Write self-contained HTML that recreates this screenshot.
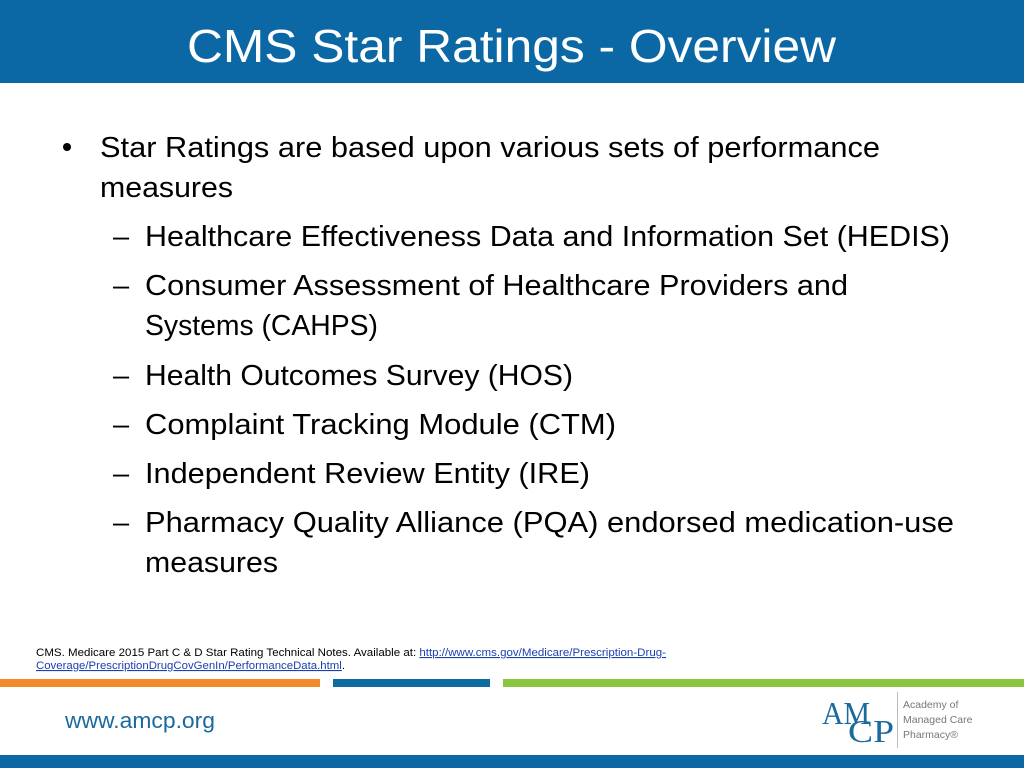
<!DOCTYPE html>
<html><head><meta charset="utf-8"><style>
html,body{margin:0;padding:0;background:#fff;}
svg{display:block;}
text{font-family:"Liberation Sans",sans-serif;}
</style></head><body>
<svg width="1024" height="768" viewBox="0 0 1024 768">
<rect x="0" y="0" width="1024" height="83" fill="#0b68a4"/>
<text x="187" y="62" font-size="46" fill="#fff" textLength="649" lengthAdjust="spacingAndGlyphs">CMS Star Ratings - Overview</text>
<g fill="#000" font-size="29">
<circle cx="67" cy="147" r="4"/>
<text x="100" y="157" textLength="780" lengthAdjust="spacingAndGlyphs">Star Ratings are based upon various sets of performance</text>
<text x="100" y="197" textLength="133" lengthAdjust="spacingAndGlyphs">measures</text>
<text x="113" y="246">–</text>
<text x="145" y="246" textLength="805" lengthAdjust="spacingAndGlyphs">Healthcare Effectiveness Data and Information Set (HEDIS)</text>
<text x="113" y="295">–</text>
<text x="145" y="295" textLength="703" lengthAdjust="spacingAndGlyphs">Consumer Assessment of Healthcare Providers and</text>
<text x="145" y="335" textLength="233" lengthAdjust="spacingAndGlyphs">Systems (CAHPS)</text>
<text x="113" y="385">–</text>
<text x="145" y="385" textLength="428" lengthAdjust="spacingAndGlyphs">Health Outcomes Survey (HOS)</text>
<text x="113" y="434">–</text>
<text x="145" y="434" textLength="471" lengthAdjust="spacingAndGlyphs">Complaint Tracking Module (CTM)</text>
<text x="113" y="483">–</text>
<text x="145" y="483" textLength="445" lengthAdjust="spacingAndGlyphs">Independent Review Entity (IRE)</text>
<text x="113" y="532">–</text>
<text x="145" y="532" textLength="809" lengthAdjust="spacingAndGlyphs">Pharmacy Quality Alliance (PQA) endorsed medication-use</text>
<text x="145" y="572" textLength="133" lengthAdjust="spacingAndGlyphs">measures</text>
</g>
<g font-size="11">
<text x="36" y="656" fill="#000" textLength="630" lengthAdjust="spacingAndGlyphs">CMS.  Medicare 2015 Part C &amp; D Star Rating Technical Notes. Available at: <tspan fill="#1a3fb0" text-decoration="underline">http://www.cms.gov/Medicare/Prescription-Drug-</tspan></text>
<text x="36" y="669" fill="#1a3fb0" textLength="309" lengthAdjust="spacingAndGlyphs"><tspan text-decoration="underline">Coverage/PrescriptionDrugCovGenIn/PerformanceData.html</tspan><tspan fill="#000">.</tspan></text>
</g>
<rect x="0" y="679" width="320" height="8" fill="#f58a2a"/>
<rect x="333" y="679" width="157" height="8" fill="#0f6aa0"/>
<rect x="503" y="679" width="521" height="8" fill="#8bc540"/>
<text x="65" y="728" font-size="22" fill="#1a6aa0" textLength="150" lengthAdjust="spacingAndGlyphs">www.amcp.org</text>
<g>
<text x="822" y="724" style="font-family:'Liberation Serif',serif" font-size="32" fill="#1a6aa0" textLength="48" lengthAdjust="spacingAndGlyphs">AM</text>
<text x="848" y="742" style="font-family:'Liberation Serif',serif" font-size="32" fill="#1a6aa0" textLength="46" lengthAdjust="spacingAndGlyphs">CP</text>
<line x1="897.5" y1="692" x2="897.5" y2="748" stroke="#bbb" stroke-width="1"/>
<text x="903" y="708" font-size="10.5" fill="#777">Academy of</text>
<text x="903" y="723" font-size="10.5" fill="#777">Managed Care</text>
<text x="903" y="738" font-size="10.5" fill="#777">Pharmacy®</text>
</g>
<rect x="0" y="755" width="1024" height="13" fill="#0b68a4"/>
</svg>
</body></html>
